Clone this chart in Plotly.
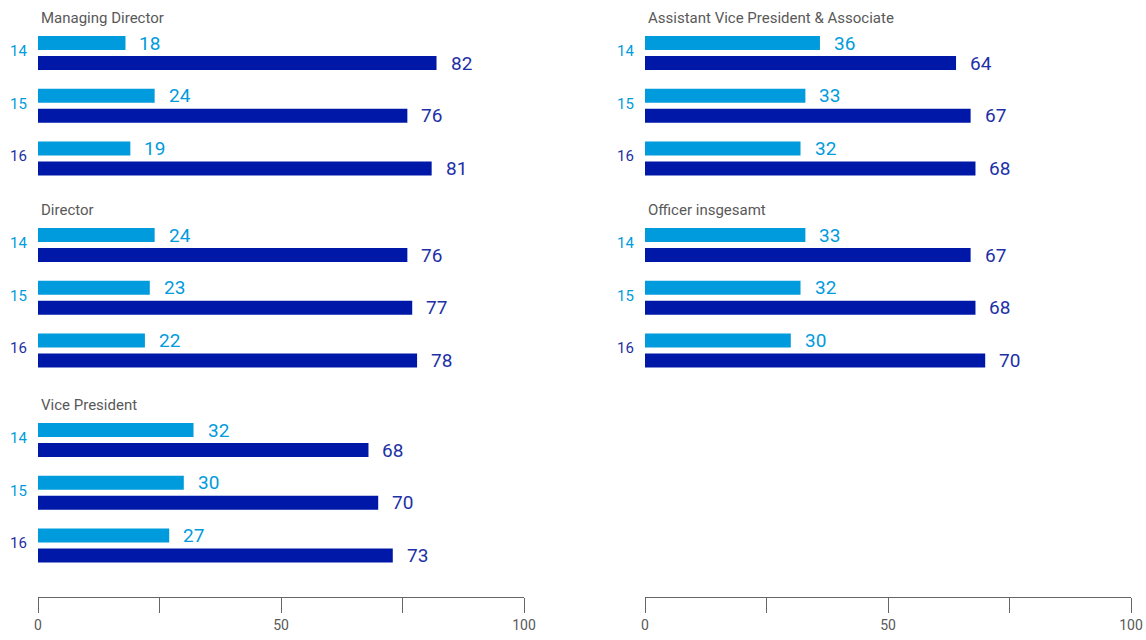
import plotly.graph_objects as go

# ---- data ----
years = ["14", "15", "16"]
left_groups = ["Managing Director", "Director", "Vice President"]
right_groups = ["Assistant Vice President & Associate", "Officer insgesamt"]
light_vals = {
    "Managing Director": [18, 24, 19],
    "Director": [24, 23, 22],
    "Vice President": [32, 30, 27],
    "Assistant Vice President & Associate": [36, 33, 32],
    "Officer insgesamt": [33, 32, 30],
}
dark_vals = {
    "Managing Director": [82, 76, 81],
    "Director": [76, 77, 78],
    "Vice President": [68, 70, 73],
    "Assistant Vice President & Associate": [64, 67, 68],
    "Officer insgesamt": [67, 68, 70],
}
tick_vals = [0, 25, 50, 75, 100]
tick_text = ["0", "", "50", "", "100"]

LIGHT = "#009bdc"
DARK = "#0018a8"
DARK_TXT = "#1e30a6"
GRAY = "#595959"
FONT = "Roboto, Arial, sans-serif"

W, H = 1146, 640
BOTTOM = 43
PLOT_H = H - BOTTOM

group_tops = [0, 192, 387]  # vertical start of each group (pixel units)
YEAR_STEP = 52.7

fig = go.Figure()

def add_column(groups, xa, ya):
    axref = xa.replace("axis", "")
    ayref = ya.replace("axis", "")
    for gi, g in enumerate(groups):
        top = group_tops[gi]
        ly = [top + 43 + i * YEAR_STEP for i in range(3)]
        dy = [top + 63 + i * YEAR_STEP for i in range(3)]
        fig.add_trace(go.Bar(x=light_vals[g], y=ly, orientation="h", width=14,
                             marker=dict(color=LIGHT, line=dict(width=0)),
                             xaxis=xa, yaxis=ya, showlegend=False, hoverinfo="x"))
        fig.add_trace(go.Bar(x=dark_vals[g], y=dy, orientation="h", width=14,
                             marker=dict(color=DARK, line=dict(width=0)),
                             xaxis=xa, yaxis=ya, showlegend=False, hoverinfo="x"))
        fig.add_annotation(x=0, y=top + 18, xref=axref, yref=ayref, text=g,
                           showarrow=False, xanchor="left", yanchor="middle",
                           xshift=1, font=dict(family=FONT, size=15, color=GRAY))
        for i in range(3):
            fig.add_annotation(x=light_vals[g][i], y=ly[i], xref=axref, yref=ayref,
                               text=str(light_vals[g][i]), showarrow=False,
                               xanchor="left", yanchor="middle", xshift=12,
                               font=dict(family=FONT, size=19, color=LIGHT))
            fig.add_annotation(x=dark_vals[g][i], y=dy[i], xref=axref, yref=ayref,
                               text=str(dark_vals[g][i]), showarrow=False,
                               xanchor="left", yanchor="middle", xshift=12,
                               font=dict(family=FONT, size=19, color=DARK_TXT))
            fig.add_annotation(x=0, y=(ly[i] + dy[i]) / 2 - 2, xref=axref, yref=ayref,
                               text=years[i], showarrow=False,
                               xanchor="center", yanchor="middle", xshift=-20,
                               font=dict(family=FONT, size=15,
                                         color=DARK_TXT if i == 2 else LIGHT))

add_column(left_groups, "x", "y")
add_column(right_groups, "x2", "y2")

xaxis_common = dict(range=[0, 100], tickvals=tick_vals, ticktext=tick_text,
                    showgrid=False, zeroline=False, showline=True,
                    linecolor="#666666", linewidth=1, ticks="outside",
                    ticklen=15, tickcolor="#666666", tickwidth=1,
                    tickfont=dict(family=FONT, size=14, color=GRAY),
                    fixedrange=True)
yaxis_common = dict(range=[PLOT_H, 0], visible=False, showgrid=False,
                    zeroline=False, domain=[0, 1], fixedrange=True)

fig.update_layout(
    width=W, height=H,
    margin=dict(l=0, r=0, t=0, b=BOTTOM, autoexpand=False),
    paper_bgcolor="white", plot_bgcolor="white",
    barmode="overlay",
    xaxis=dict(domain=[38 / W, 524 / W], anchor="y", **xaxis_common),
    xaxis2=dict(domain=[645 / W, 1131 / W], anchor="y2", **xaxis_common),
    yaxis=dict(anchor="x", **yaxis_common),
    yaxis2=dict(anchor="x2", **yaxis_common),
    font=dict(family=FONT),
)

fig.write_html(
    "out.html",
    config={"responsive": False, "displayModeBar": False},
    post_script="document.body.style.margin='0';document.body.style.overflow='hidden';",
)
